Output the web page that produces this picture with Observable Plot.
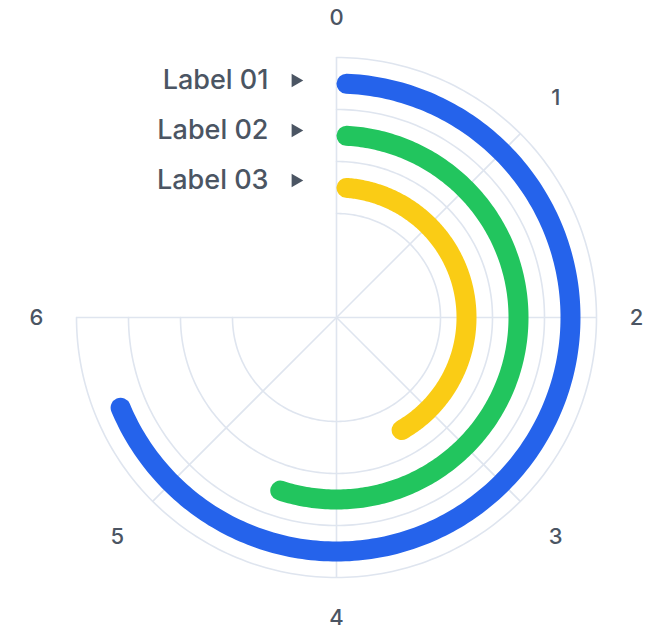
<!DOCTYPE html>
<html><head><meta charset="utf-8">
<script src="https://cdn.jsdelivr.net/npm/d3@7"></script>
<script src="https://cdn.jsdelivr.net/npm/@observablehq/plot@0.6"></script>
<style>body{margin:0;background:#fff;font-family:Inter,sans-serif}</style>
</head><body><div id="chart"></div>
<script>
const categories = ["Label 01", "Label 02", "Label 03"];
const values = [5.55, 4.47, 3.43];
const colors = ["#2563eb", "#22c55e", "#facc15"];
const angleTicks = [0, 1, 2, 3, 4, 5, 6];
const angleMax = 8;
const gridMax = 6;

const W = 672, H = 640, CX = 336, CY = 317;
const R_OUT = 260, R_IN = 104, BAR_W = 20;
const rBand = d3.scaleBand().domain(categories).range([R_OUT, R_IN]);
const rLabel = d3.scalePoint().domain(categories).range([237, 137]);
const toRad = v => v / angleMax * 2 * Math.PI;
const pt = (v, r) => ({x: r * Math.sin(toRad(v)), y: r * Math.cos(toRad(v))});
const arc = (v0, v1, r, key) => {
  const n = 240;
  return d3.range(n + 1).map(i => ({...pt(v0 + (v1 - v0) * i / n, r), key}));
};

const boundaries = [...categories.map(c => rBand(c)), R_OUT];
const gridArcs = boundaries.flatMap((r, i) => arc(0, gridMax, r, "g" + i));
const spokes = angleTicks.map(t => ({t, ...pt(t, R_OUT)}));

const bars = categories.flatMap((c, i) => {
  const r = rBand(c) + rBand.bandwidth() / 2;
  const cap = (BAR_W / 2) / r / (2 * Math.PI) * angleMax;
  return arc(cap, values[i] - cap, r, c);
});

const tickLabels = angleTicks.map(t => {
  const r = 300 + 10 * Math.abs(Math.sin(2 * toRad(t)));
  return {t, ...pt(t, r)};
});
const catLabels = categories.map(c => ({c, ...pt(0, rLabel(c))}));

const chart = Plot.plot({
  width: W, height: H,
  margin: 0,
  style: {fontFamily: "Inter, sans-serif", background: "#fff"},
  x: {domain: [-CX, W - CX], range: [0, W], axis: null},
  y: {domain: [CY - H, CY], range: [H, 0], axis: null},
  color: {domain: categories, range: colors},
  marks: [
    Plot.line(gridArcs, {x: "x", y: "y", z: "key", stroke: "#dfe5ef", strokeWidth: 1.6}),
    Plot.link(spokes, {x1: () => 0, y1: () => 0, x2: "x", y2: "y", stroke: "#dfe5ef", strokeWidth: 1.6}),
    Plot.line(bars, {x: "x", y: "y", z: "key", stroke: "key", strokeWidth: BAR_W, strokeLinecap: "round"}),
    Plot.text(tickLabels, {x: "x", y: "y", text: d => String(d.t), fontSize: 22, fontWeight: 500, fill: "#4b5563"}),
    Plot.text(catLabels, {x: "x", y: "y", text: "c", dx: -68, textAnchor: "end", fontSize: 27, fontWeight: 500, fill: "#4b5563"}),
    Plot.dot(catLabels, {x: "x", y: "y", dx: -41, symbol: "triangle", rotate: 90, r: 5, fill: "#4b5563", stroke: null})
  ]
});
document.getElementById("chart").append(chart);
</script>
</body></html>
